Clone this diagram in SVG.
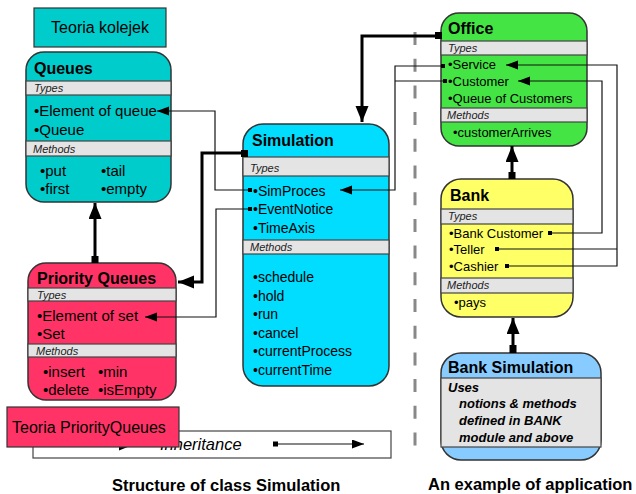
<svg xmlns="http://www.w3.org/2000/svg" width="636" height="494" viewBox="0 0 636 494">
<style>
text{font-family:"Liberation Sans",Arial,sans-serif;fill:#000}
.box{stroke:#333;stroke-width:1.5}
.band{fill:#e4e4e4;stroke:#444;stroke-width:1.2}
.title{font-weight:bold;font-size:16px}
.sec{font-style:italic;font-size:11px;fill:#222}
.i15{font-size:15px}
.i14{font-size:14px}
.i13{font-size:13px}
.bi{font-weight:bold;font-style:italic;font-size:13px}
.thin{fill:none;stroke:#111;stroke-width:1.2}
.thick{fill:none;stroke:#000;stroke-width:3}
.cap{font-weight:bold;font-size:16.5px}
</style>
<defs>
<marker id="ah" markerUnits="userSpaceOnUse" markerWidth="12" markerHeight="10" refX="12" refY="4.5" orient="auto"><path d="M0,0 L12,4.5 L0,9 z" fill="#000"/></marker>
<marker id="AH" markerUnits="userSpaceOnUse" markerWidth="17" markerHeight="14" refX="16" refY="6.5" orient="auto"><path d="M0,0 L16,6.5 L0,13 z" fill="#000"/></marker>
</defs>

<line x1="415" y1="32" x2="415" y2="449" stroke="#888" stroke-width="3" stroke-dasharray="13 13.7"/>

<g id="teoria-kolejek">
<rect x="34" y="8" width="132" height="39" fill="#00CCCC" stroke="#333" stroke-width="1.2"/>
<text x="100" y="33" font-size="16" text-anchor="middle">Teoria kolejek</text>
</g>

<g id="queues">
<rect class="box" x="26" y="52" width="145" height="150" rx="18" fill="#00CCCC"/>
<rect class="band" x="26" y="81" width="145" height="14"/>
<rect class="band" x="26" y="141" width="145" height="15"/>
<text class="title" x="34" y="74">Queues</text>
<text class="sec" x="34" y="92">Types</text>
<text class="i15" x="34" y="116">•Element of queue</text>
<text class="i15" x="34" y="135">•Queue</text>
<text class="sec" x="33" y="153">Methods</text>
<text class="i15" x="40" y="176">•put</text>
<text class="i15" x="101" y="176">•tail</text>
<text class="i15" x="40" y="194">•first</text>
<text class="i15" x="101" y="194">•empty</text>
</g>

<g id="priority-queues">
<rect class="box" x="28" y="263" width="148" height="137" rx="18" fill="#FF3366"/>
<rect class="band" x="28" y="288" width="148" height="13"/>
<rect class="band" x="28" y="344" width="148" height="13"/>
<text class="title" x="37" y="284" font-size="15">Priority Queues</text>
<text class="sec" x="37" y="299">Types</text>
<text class="i15" x="37" y="321">•Element of set</text>
<text class="i15" x="37" y="339">•Set</text>
<text class="sec" x="36" y="355">Methods</text>
<text class="i15" x="43" y="377">•insert</text>
<text class="i15" x="98" y="377">•min</text>
<text class="i15" x="43" y="395">•delete</text>
<text class="i15" x="98" y="395">•isEmpty</text>
</g>

<g id="simulation">
<rect class="box" x="243" y="124" width="146" height="262" rx="20" fill="#00DDFF"/>
<rect class="band" x="243" y="157" width="146" height="19"/>
<rect class="band" x="243" y="240" width="146" height="14"/>
<text class="title" x="252" y="146">Simulation</text>
<text class="sec" x="250" y="172">Types</text>
<text class="i14" x="253" y="196">•SimProces</text>
<text class="i14" x="253" y="214">•EventNotice</text>
<text class="i14" x="253" y="233">•TimeAxis</text>
<text class="sec" x="250" y="251">Methods</text>
<text class="i14" x="253" y="282">•schedule</text>
<text class="i14" x="253" y="300.5">•hold</text>
<text class="i14" x="253" y="319">•run</text>
<text class="i14" x="253" y="337.5">•cancel</text>
<text class="i14" x="253" y="356">•currentProcess</text>
<text class="i14" x="253" y="374.5">•currentTime</text>
</g>

<g id="office">
<rect class="box" x="441" y="13" width="146" height="133" rx="18" fill="#44E444"/>
<rect class="band" x="441" y="41" width="146" height="14"/>
<rect class="band" x="441" y="108" width="146" height="14"/>
<text class="title" x="448" y="34">Office</text>
<text class="sec" x="448" y="52">Types</text>
<text class="i13" x="448" y="69">•Service</text>
<text class="i13" x="448" y="86">•Customer</text>
<text class="i13" x="448" y="103">•Queue of Customers</text>
<text class="sec" x="447" y="119">Methods</text>
<text class="i13" x="453" y="137">•customerArrives</text>
</g>

<g id="bank">
<rect class="box" x="441" y="179" width="132" height="138" rx="20" fill="#FFFF66"/>
<rect class="band" x="441" y="209" width="132" height="15"/>
<rect class="band" x="441" y="278" width="132" height="15"/>
<text class="title" x="450" y="201">Bank</text>
<text class="sec" x="448" y="220">Types</text>
<text class="i13" x="449" y="238">•Bank Customer</text>
<text class="i13" x="449" y="254">•Teller</text>
<text class="i13" x="449" y="271">•Cashier</text>
<text class="sec" x="447" y="289">Methods</text>
<text class="i13" x="454" y="307">•pays</text>
</g>

<g id="bank-simulation">
<rect class="box" x="441" y="353" width="160" height="107" rx="20" fill="#88CCFF"/>
<rect class="band" x="441" y="378" width="160" height="69"/>
<text class="title" x="448" y="373">Bank Simulation</text>
<text class="bi" x="448" y="392">Uses</text>
<text class="bi" x="459" y="408">notions &amp; methods</text>
<text class="bi" x="459" y="425">defined in BANK</text>
<text class="bi" x="459" y="442">module and above</text>
</g>

<g id="connectors">
<path class="thin" d="M250,190 H215 V111 H157" marker-end="url(#ah)"/>
<path class="thin" d="M250,209 H216 V317 H145" marker-end="url(#ah)"/>
<path class="thin" d="M443,66 H395 V190 H340" marker-end="url(#ah)"/>
<path class="thin" d="M445,81 H395"/>
<path class="thin" d="M507,266 H617 V65 H506" marker-end="url(#ah)"/>
<path class="thin" d="M497,249 H617"/>
<path class="thin" d="M550,233 H602 V81 H518" marker-end="url(#ah)"/>
<rect x="248" y="188" width="4" height="4"/>
<rect x="248" y="207" width="4" height="4"/>
<rect x="441" y="64" width="4" height="4"/>
<rect x="443" y="79" width="4" height="4"/>
<rect x="548" y="231" width="4" height="4"/>
<rect x="495" y="247" width="4" height="4"/>
<rect x="505" y="264" width="4" height="4"/>

<path class="thick" d="M437,36 H362 V122" marker-end="url(#AH)"/>
<rect x="435" y="32" width="7" height="7"/>
<path class="thick" d="M245,153 H202 V282 H178" marker-end="url(#AH)"/>
<rect x="241" y="150" width="7" height="7"/>
<path class="thick" d="M95,260 V203" marker-end="url(#AH)"/>
<rect x="91.5" y="256" width="7" height="7"/>
<path class="thick" d="M512,176 V146" marker-end="url(#AH)"/>
<rect x="508.5" y="172" width="7" height="7"/>
<path class="thick" d="M513,349 V318" marker-end="url(#AH)"/>
<rect x="509.5" y="345" width="7" height="8"/>
</g>

<g id="legend">
<rect x="33" y="431" width="358" height="27" fill="#fff" stroke="#444" stroke-width="1.2"/>
<path class="thick" d="M47,444 H135" marker-end="url(#AH)"/>
<rect x="44" y="441" width="6" height="6"/>
<text x="160" y="450" font-size="16.5" font-style="italic">Inheritance</text>
<rect x="273" y="441.5" width="5" height="5"/>
<path class="thin" d="M278,444 H364" marker-end="url(#ah)"/>
</g>

<g id="teoria-priorityqueues">
<rect x="7" y="407" width="172" height="40" fill="#FF3366" stroke="#333" stroke-width="1.2"/>
<text x="12" y="433" font-size="16">Teoria PriorityQueues</text>
</g>

<text class="cap" x="112" y="491">Structure of class Simulation</text>
<text class="cap" x="428" y="490">An example of application</text>
</svg>
